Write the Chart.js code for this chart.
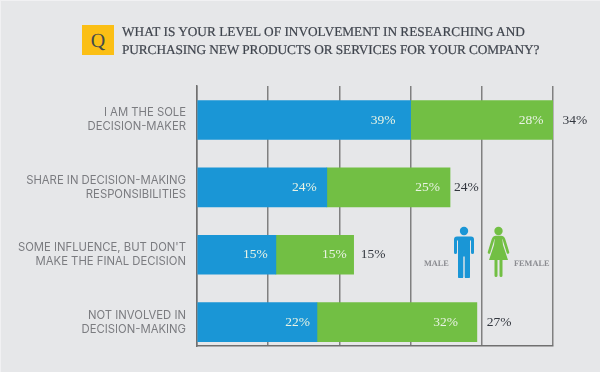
<!DOCTYPE html>
<html>
<head>
<meta charset="utf-8">
<script src="https://cdn.jsdelivr.net/npm/chart.js@4"></script>
<style>
    html, body { margin: 0; padding: 0; }
    body { width: 600px; height: 372px; background: #e6e7e9; position: relative; overflow: hidden; text-rendering: geometricPrecision; }
    body::before { content: ''; position: absolute; left: 0; top: 0; right: 0; bottom: 0; border-left: 1px solid #f1f1f3; border-top: 1px solid #f1f1f3; }
    canvas { position: absolute; left: 0; top: 0; }
    .qbox { position: absolute; left: 82px; top: 25px; width: 32px; height: 30px; background: #fbbf15; color: #424a4c; font: 20px/33px "Liberation Serif", serif; text-align: center; }
    .title { position: absolute; left: 122px; top: 23px; font: 13.3px/17.5px "Liberation Serif", serif; color: #3f444d; white-space: nowrap; -webkit-text-stroke: 0.2px #3f444d; }
    .title span { letter-spacing: -0.09px; }
    .sex { position: absolute; top: 259px; font: bold 8.3px/10px "Liberation Serif", serif; color: #8a8b90; }
    svg { position: absolute; }
</style>
</head>
<body>
<canvas id="chart" width="600" height="372"></canvas>
<div class="qbox">Q</div>
<div class="title">WHAT IS YOUR LEVEL OF INVOLVEMENT IN RESEARCHING AND<br><span>PURCHASING NEW PRODUCTS OR SERVICES FOR YOUR COMPANY?</span></div>
<div class="sex" style="left:424px">MALE</div>
<div class="sex" style="left:514px">FEMALE</div>
<svg style="left:453px;top:226px" width="23" height="52" viewBox="0 0 23 52">
    <circle cx="11" cy="5" r="4.2" fill="#1a96d6"/>
    <path d="M4 10.500h14q3 0 3 3v13a1.300 1.300 0 0 1-3 0v-12h-1v36a2.500 2.500 0 0 1-5.300 0v-20h-1.400v20a2.500 2.500 0 0 1-5.300 0v-36h-1v12a1.300 1.300 0 0 1-3 0v-13q0-3 3-3z" fill="#1a96d6"/>
</svg>
<svg style="left:487px;top:226px" width="24" height="52" viewBox="0 0 24 52">
    <circle cx="11.500" cy="5" r="4.200" fill="#72bf44"/>
    <path d="M8 11h7l1 8 5 15h-19l5-15z" fill="#72bf44"/>
    <path d="M7.500 34h3v15.500a1.500 1.500 0 0 1-3 0zM12.500 34h3v15.500a1.500 1.500 0 0 1-3 0z" fill="#72bf44"/>
    <path d="M2 26.500l4-13q1-2.500 3-2.500h5q2 0 3 2.500l4 13" fill="none" stroke="#72bf44" stroke-width="2.600" stroke-linecap="round"/>
</svg>
<script>
    const categories = [
        ['I AM THE SOLE', 'DECISION-MAKER'],
        ['SHARE IN DECISION-MAKING', 'RESPONSIBILITIES'],
        ["SOME INFLUENCE, BUT DON'T", 'MAKE THE FINAL DECISION'],
        ['NOT INVOLVED IN', 'DECISION-MAKING']
    ];
    const rows = [0, 1, 2, 3];
    // bar lengths as drawn, in the chart's grid units (5 gridlines at 13 each)
    const maleBars = [39, 23.7, 14.4, 21.9];
    const femaleBars = [26.1, 22.5, 14.2, 29.2];
    // printed labels, which don't quite follow the bar lengths in the original
    const maleLabels = ['39%', '24%', '15%', '22%'];
    const femaleLabels = ['28%', '25%', '15%', '32%'];
    const otherLabels = ['34%', '24%', '15%', '27%'];

    const barLabels = {
        id: 'barLabels',
        afterDatasetsDraw(chart) {
            const ctx = chart.ctx;
            const male = chart.getDatasetMeta(0).data;
            const female = chart.getDatasetMeta(1).data;
            // the original's labels sit a little unevenly, gap from the bar end per row
            const maleGap = [15, 10, 8, 7];
            const femaleGap = [10, 10, 7, 19];
            const otherGap = [9, 4, 7, 10];
            ctx.save();
            ctx.textBaseline = 'middle';
            ctx.font = '13.5px "Liberation Serif", serif';
            rows.forEach(i => {
                ctx.textAlign = 'right';
                ctx.fillStyle = '#e9f3e4';
                ctx.fillText(maleLabels[i], male[i].x - maleGap[i], male[i].y);
                ctx.fillText(femaleLabels[i], female[i].x - femaleGap[i], female[i].y);
                ctx.textAlign = 'left';
                ctx.fillStyle = '#33373f';
                ctx.fillText(otherLabels[i], female[i].x + otherGap[i], female[i].y);
            });
            ctx.restore();
        }
    };

    new Chart(document.getElementById('chart'), {
        type: 'bar',
        data: {
            labels: rows,
            datasets: [
                { data: maleBars, backgroundColor: '#1a96d6', barThickness: 39 },
                { data: femaleBars, backgroundColor: '#72bf44', barThickness: 39 }
            ]
        },
        plugins: [barLabels],
        options: {
            indexAxis: 'y',
            responsive: false,
            animation: false,
            layout: { padding: { top: 86, right: 47, bottom: 26, left: 0 } },
            plugins: { legend: { display: false }, tooltip: { enabled: false } },
            scales: {
                x: {
                    stacked: true,
                    min: 0,
                    max: 65,
                    ticks: { stepSize: 13, display: false },
                    grid: { color: '#808080', lineWidth: 1.5, drawTicks: false },
                    border: { color: '#707070', width: 1.5 }
                },
                y: {
                    type: 'linear',
                    offset: false,
                    stacked: true,
                    reverse: true,
                    min: -0.504,
                    max: 3.353,
                    afterBuildTicks: scale => { scale.ticks = rows.map(v => ({ value: v })); },
                    afterFit: scale => { scale.width = 197; },
                    ticks: {
                        callback: value => categories[value],
                        color: '#7b7c80',
                        font: { family: 'Inter', size: 11.3, lineHeight: 1.25 },
                        padding: 11,
                        autoSkip: false,
                        maxRotation: 0
                    },
                    grid: { display: false, drawTicks: false },
                    border: { color: '#707070', width: 1.5 }
                }
            }
        }
    });
</script>
</body>
</html>
